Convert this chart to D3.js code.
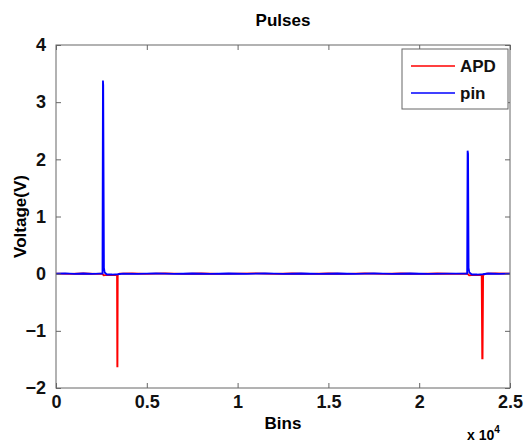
<!DOCTYPE html>
<html>
<head>
<meta charset="utf-8">
<script src="https://d3js.org/d3.v7.min.js"></script>
<style>
  body { margin: 0; background: #fff; }
  svg text { font-family: "Liberation Sans", Arial, sans-serif; font-weight: bold; }
</style>
</head>
<body>
<script>
// sampled traces (bin index, voltage)
const apdBins = [0, 800, 1500, 2200, 2550, 2620, 2700, 3000, 3300, 3360, 3375, 3385, 3400, 3500, 4200, 5000, 6000, 7000, 8000, 9000, 10000, 11000, 12000, 13000, 14000, 15000, 16000, 17000, 18000, 19000, 20000, 21000, 22000, 22650, 22750, 22900, 23200, 23440, 23470, 23490, 23520, 23700, 24200, 25000];
const apdV = [0.002, -0.004, 0.003, -0.002, 0.0, -0.03, -0.025, -0.025, -0.02, -0.025, -1.62, -1.62, -0.02, 0.0, 0.003, -0.003, 0.004, -0.003, 0.003, -0.004, 0.002, 0.004, -0.003, 0.003, -0.004, 0.003, -0.002, 0.004, -0.003, 0.003, -0.004, 0.003, -0.002, 0.0, -0.03, -0.025, -0.025, -0.025, -1.48, -1.48, -0.02, 0.0, 0.003, 0.0];

const pinBins = [0, 500, 1000, 1500, 2000, 2400, 2560, 2585, 2600, 2640, 2680, 2800, 3100, 3400, 3700, 4500, 5500, 6500, 7500, 8500, 9500, 10500, 11500, 12500, 13500, 14500, 15500, 16500, 17500, 18500, 19500, 20500, 21500, 22300, 22640, 22665, 22690, 22720, 22760, 22900, 23200, 23500, 23800, 24400, 25000];
const pinV = [0.0, 0.004, -0.003, 0.003, -0.004, 0.0, 0.0, 3.38, 3.3, 0.1, 0.02, -0.015, -0.015, -0.01, 0.002, -0.003, 0.004, -0.003, 0.003, -0.004, 0.003, -0.003, 0.004, -0.003, 0.003, -0.004, 0.003, -0.003, 0.004, -0.003, 0.003, -0.003, 0.002, 0.0, 0.0, 2.15, 2.1, 0.1, 0.02, -0.015, -0.015, -0.01, 0.003, -0.003, 0.0];

const xTicks = [0, 5000, 10000, 15000, 20000, 25000];
const yTicks = [-2, -1, 0, 1, 2, 3, 4];
const seriesNames = ["APD", "pin"];
const seriesColors = ["#ff0000", "#0000ff"];

const W = 530, H = 443;
const margin = {top: 45, right: 20, bottom: 55, left: 56};
const width = 510 - margin.left;
const height = 388 - margin.top;

const svg = d3.select("body").append("svg")
  .attr("width", W).attr("height", H);

const g = svg.append("g")
  .attr("transform", "translate(" + margin.left + "," + margin.top + ")");

const x = d3.scaleLinear().domain([0, 25000]).range([0, width]);
const y = d3.scaleLinear().domain([-2, 4]).range([height, 0]);

g.append("clipPath").attr("id", "clip")
  .append("rect").attr("width", width).attr("height", height);

const line = d3.line()
  .x(function(d) { return x(d[0]); })
  .y(function(d) { return y(d[1]); });

const series = [
  d3.zip(apdBins, apdV),
  d3.zip(pinBins, pinV)
];

series.forEach(function(s, i) {
  g.append("path")
    .datum(s)
    .attr("clip-path", "url(#clip)")
    .attr("fill", "none")
    .attr("stroke", seriesColors[i])
    .attr("stroke-width", 1.8)
    .attr("d", line);
});

// axes, MATLAB style: ticks inside on all sides
const axisColor = "#666";
function styleAxis(sel, showText) {
  sel.select(".domain").remove();
  sel.selectAll("line").attr("stroke", axisColor);
  sel.selectAll("text")
    .attr("fill", "#111")
    .style("font-size", "18px")
    .style("display", showText ? null : "none");
}

const fmtX = function(d) { return d / 10000; };

g.append("g")
  .attr("transform", "translate(0," + height + ")")
  .call(d3.axisBottom(x).tickValues(xTicks).tickFormat(fmtX).tickSizeInner(-5).tickPadding(7))
  .call(styleAxis, true);

g.append("g")
  .call(d3.axisTop(x).tickValues(xTicks).tickSizeInner(-5))
  .call(styleAxis, false);

g.append("g")
  .call(d3.axisLeft(y).tickValues(yTicks).tickFormat(d3.format("d")).tickSizeInner(-5).tickPadding(10))
  .call(styleAxis, true);

g.append("g")
  .attr("transform", "translate(" + width + ",0)")
  .call(d3.axisRight(y).tickValues(yTicks).tickSizeInner(-5))
  .call(styleAxis, false);

g.append("rect")
  .attr("width", width).attr("height", height)
  .attr("fill", "none").attr("stroke", axisColor).attr("stroke-width", 1);

// titles
svg.append("text")
  .attr("x", margin.left + width / 2).attr("y", 26)
  .attr("text-anchor", "middle").style("font-size", "17px")
  .text("Pulses");

svg.append("text")
  .attr("x", margin.left + width / 2).attr("y", 429)
  .attr("text-anchor", "middle").style("font-size", "17px")
  .text("Bins");

svg.append("text")
  .attr("transform", "translate(26," + (margin.top + height / 2) + ") rotate(-90)")
  .attr("text-anchor", "middle").style("font-size", "17px")
  .text("Voltage(V)");

const expo = svg.append("text")
  .attr("x", 467).attr("y", 440).style("font-size", "14px");
expo.append("tspan").text("x 10");
expo.append("tspan").attr("dy", -7).style("font-size", "10px").text("4");

// legend
const leg = svg.append("g").attr("transform", "translate(402,49)");
leg.append("rect")
  .attr("width", 106).attr("height", 60)
  .attr("fill", "#fff").attr("stroke", axisColor);
seriesNames.forEach(function(name, i) {
  const ly = 17 + i * 27;
  leg.append("line")
    .attr("x1", 9).attr("x2", 53).attr("y1", ly).attr("y2", ly)
    .attr("stroke", seriesColors[i]).attr("stroke-width", 1.6);
  leg.append("text")
    .attr("x", 58).attr("y", ly + 6)
    .style("font-size", "17px").attr("fill", "#111")
    .text(name);
});
</script>
</body>
</html>
